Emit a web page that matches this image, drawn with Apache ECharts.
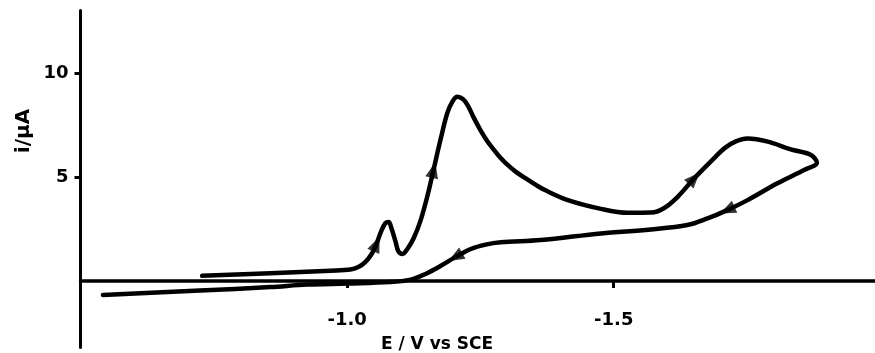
<!DOCTYPE html>
<html><head><meta charset="utf-8">
<script src="https://cdn.jsdelivr.net/npm/echarts@6/dist/echarts.min.js"></script>
<style>html,body{margin:0;padding:0;background:#fff}#c{width:875px;height:353px}</style>
</head><body><div id="c"></div>
<script>
// Potential E (V vs SCE) along the scan, in scan order (forward then return)
const potential = [
  -0.728, -0.856, -0.969, -1.006, -1.021, -1.034, -1.046, -1.055, -1.064, -1.072,
  -1.078, -1.083, -1.091, -1.096, -1.104, -1.113, -1.125, -1.138, -1.151, -1.162,
  -1.175, -1.188, -1.198, -1.207, -1.217, -1.226, -1.237, -1.250, -1.263, -1.275,
  -1.288, -1.301, -1.316, -1.335, -1.354, -1.372, -1.414, -1.476, -1.526, -1.570,
  -1.594, -1.620, -1.651, -1.688, -1.708, -1.729, -1.751, -1.789, -1.832, -1.870,
  -1.881, -1.857, -1.807, -1.751, -1.713, -1.676, -1.638, -1.569, -1.476, -1.363,
  -1.288, -1.260, -1.232, -1.203, -1.175, -1.147, -1.119, -1.081, -1.001, -0.925,
  -0.856, -0.724, -0.542
];
// Current i (µA)
const current = [
  0.25, 0.38, 0.50, 0.55, 0.67, 0.91, 1.30, 1.78, 2.40, 2.79,
  2.84, 2.55, 1.88, 1.44, 1.30, 1.54, 2.07, 2.93, 4.13, 5.34,
  6.78, 8.08, 8.65, 8.86, 8.75, 8.46, 7.88, 7.26, 6.72, 6.32,
  5.91, 5.58, 5.26, 4.93, 4.62, 4.36, 3.89, 3.47, 3.28, 3.29,
  3.50, 4.05, 4.94, 5.90, 6.39, 6.71, 6.85, 6.70, 6.33, 6.06,
  5.69, 5.34, 4.70, 3.89, 3.41, 3.01, 2.69, 2.48, 2.29, 1.97,
  1.86, 1.75, 1.54, 1.15, 0.72, 0.34, 0.07, -0.05, -0.12, -0.17,
  -0.29, -0.46, -0.67
];
// Points of the scan where direction arrows are drawn
const arrowIndices = [7, 19, 42, 54, 63];
const xTickValues = [-1.0, -1.5];
const yTickValues = [5, 10];
const xAxisName = 'E / V vs SCE';
const yAxisName = 'i/\u03bcA';

const FONT = '"DejaVu Sans", sans-serif';
const curve = potential.map((e, k) => [e, current[k]]);

const chart = echarts.init(document.getElementById('c'), null, {renderer: 'canvas'});
const option = {
  animation: false,
  backgroundColor: '#fff',
  grid: {left: 80.5, right: 0, top: 10.6, bottom: 5.4, containLabel: false, outerBoundsMode: 'none'},
  xAxis: {
    type: 'value', min: -1.99, max: -0.5, inverse: true,
    splitLine: {show: false},
    axisLine: {onZero: true, lineStyle: {color: '#000', width: 3.5}},
    axisTick: {show: true, customValues: xTickValues, length: 7, lineStyle: {color: '#000', width: 3}},
    axisLabel: {customValues: xTickValues, margin: -36, color: '#000', fontFamily: FONT, fontWeight: 'bold', fontSize: 18,
      formatter: v => v.toFixed(1)}
  },
  yAxis: {
    type: 'value', min: -3.2, max: 13,
    splitLine: {show: false},
    axisLine: {onZero: false, lineStyle: {color: '#000', width: 3}},
    axisTick: {show: true, customValues: yTickValues, length: 6, lineStyle: {color: '#000', width: 3}},
    axisLabel: {customValues: yTickValues, margin: 12, color: '#000', fontFamily: FONT, fontWeight: 'bold', fontSize: 18}
  },
  graphic: [
    {type: 'text', x: 24, y: 131, rotation: Math.PI / 2,
      style: {text: yAxisName, fill: '#000', font: 'bold 20px ' + FONT, textAlign: 'center', textVerticalAlign: 'middle'}},
    {type: 'text', x: 437, y: 345,
      style: {text: xAxisName, fill: '#000', font: 'bold 17px ' + FONT, textAlign: 'center', textVerticalAlign: 'middle'}}
  ],
  series: [
    {type: 'line', data: curve, showSymbol: false, smooth: 0.35, clip: false,
      lineStyle: {color: '#000', width: 4.5, join: 'round', cap: 'round'}},
    {type: 'scatter', data: [], symbol: 'triangle', symbolSize: [13, 16], itemStyle: {color: '#000'}, z: 3}
  ]
};
chart.setOption(option);

// orient arrows along the curve using the chart's own scales
const arrows = arrowIndices.map(k => {
  const a = chart.convertToPixel({gridIndex: 0}, curve[k - 1]);
  const b = chart.convertToPixel({gridIndex: 0}, curve[k + 1]);
  const ang = Math.atan2(-(b[1] - a[1]), b[0] - a[0]) * 180 / Math.PI;
  return {value: curve[k], symbolRotate: ang - 90};
});
chart.setOption({series: [{}, {data: arrows}]});
</script>
</body></html>
